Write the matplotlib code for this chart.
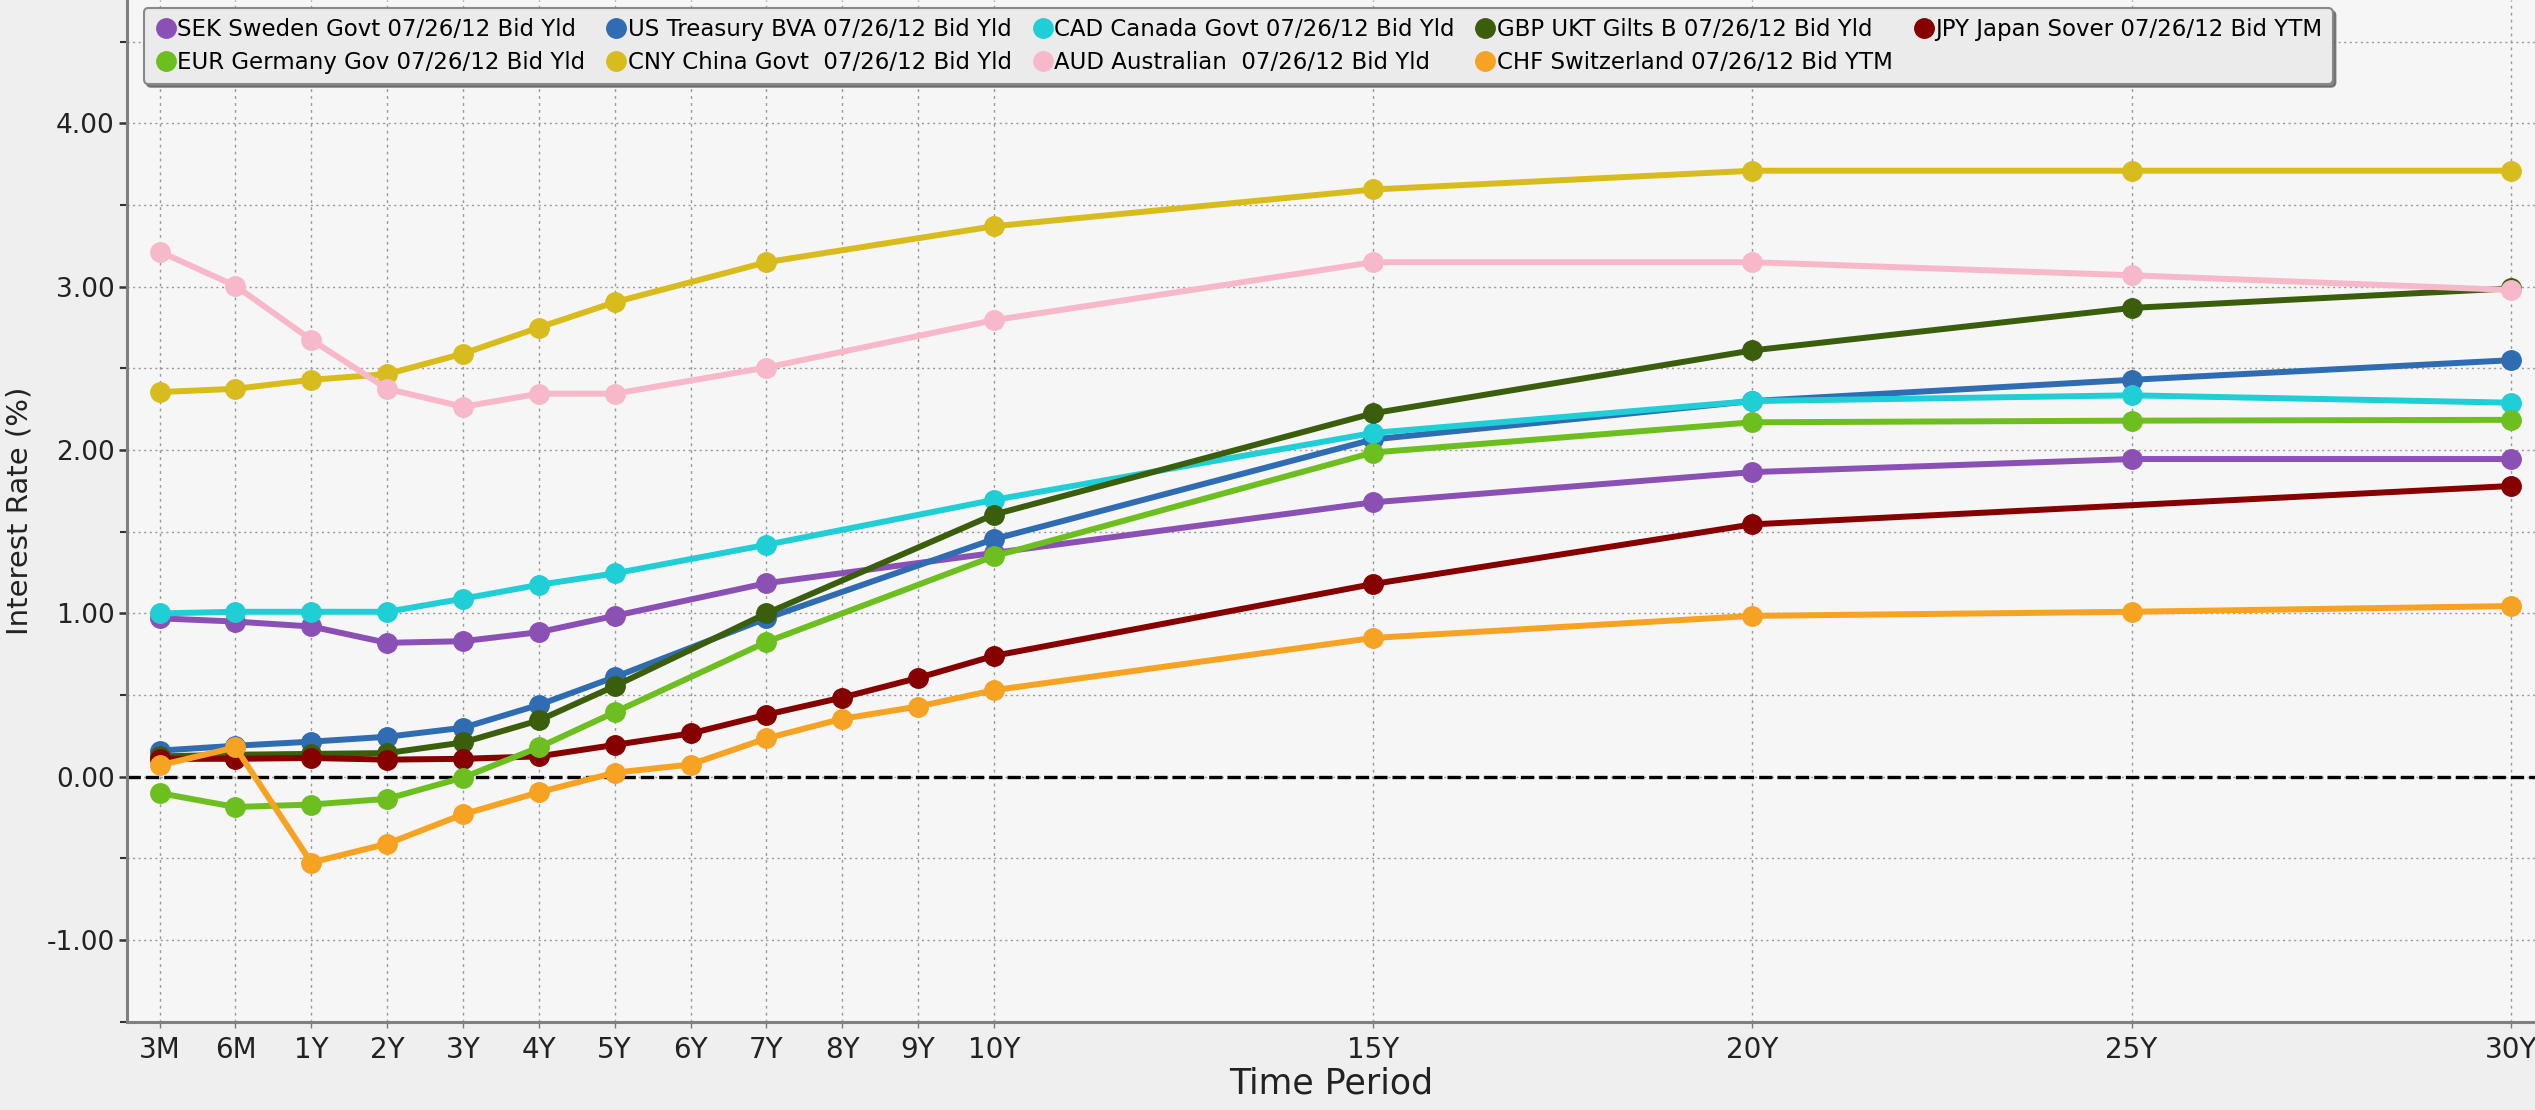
import numpy as np
import matplotlib
matplotlib.use("Agg")
import matplotlib.pyplot as plt
from matplotlib.lines import Line2D
from matplotlib.ticker import MultipleLocator, FixedLocator, FixedFormatter

# tenors (in years) and their labels
tenor_years = [0.25, 0.5, 1, 2, 3, 4, 5, 6, 7, 8, 9, 10, 15, 20, 25, 30]
tenor_labels = ["3M", "6M", "1Y", "2Y", "3Y", "4Y", "5Y", "6Y", "7Y", "8Y",
                "9Y", "10Y", "15Y", "20Y", "25Y", "30Y"]

# yields (%), None where the curve has no point
sek = [0.97, 0.95, 0.92, 0.82, 0.83, 0.885, 0.985, None, 1.185, None, None, 1.37, 1.68, 1.865, 1.945, 1.945]
usd = [0.16, 0.19, 0.215, 0.245, 0.30, 0.44, 0.61, None, 0.97, None, None, 1.455, 2.065, 2.30, 2.43, 2.55]
cad = [1.00, 1.01, 1.01, 1.01, 1.09, 1.175, 1.245, None, 1.42, None, None, 1.695, 2.105, 2.30, 2.335, 2.29]
gbp = [0.125, 0.135, 0.14, 0.145, 0.21, 0.345, 0.555, None, 1.00, None, None, 1.605, 2.225, 2.61, 2.87, 2.99]
jpy = [0.11, 0.11, 0.115, 0.105, 0.11, 0.125, 0.195, 0.265, 0.38, 0.485, 0.605, 0.74, 1.18, 1.545, None, 1.78]
eur = [-0.10, -0.185, -0.17, -0.135, -0.005, 0.18, 0.395, None, 0.825, None, None, 1.35, 1.985, 2.17, 2.18, 2.185]
cny = [2.355, 2.375, 2.43, 2.465, 2.59, 2.75, 2.905, None, 3.15, None, None, 3.37, 3.595, 3.71, 3.71, 3.71]
aud = [3.215, 3.005, 2.675, 2.375, 2.265, 2.345, 2.345, None, 2.505, None, None, 2.795, 3.15, 3.15, 3.07, 2.98]
chf = [0.07, 0.18, -0.525, -0.41, -0.23, -0.095, 0.025, 0.075, 0.235, 0.355, 0.43, 0.53, 0.85, 0.985, 1.01, 1.045]

series = [
    ("SEK Sweden Govt 07/26/12 Bid Yld", sek, "#8b50b4"),
    ("US Treasury BVA 07/26/12 Bid Yld", usd, "#2f6cb2"),
    ("CAD Canada Govt 07/26/12 Bid Yld", cad, "#20cfd6"),
    ("GBP UKT Gilts B 07/26/12 Bid Yld", gbp, "#3b5e0c"),
    ("JPY Japan Sover 07/26/12 Bid YTM", jpy, "#870000"),
    ("EUR Germany Gov 07/26/12 Bid Yld", eur, "#6dbf1f"),
    ("CNY China Govt  07/26/12 Bid Yld", cny, "#d8bc1e"),
    ("AUD Australian  07/26/12 Bid Yld", aud, "#f7b9c9"),
    ("CHF Switzerland 07/26/12 Bid YTM", chf, "#f6a222"),
]


# Bloomberg-style tenor axis: 3M, 6M, 1Y evenly spaced, then linear in years
def fwd(t):
    t = np.asarray(t, dtype=float)
    return np.where(t < 0.5, (t - 0.25) * 4,
                    np.where(t < 1, 1 + (t - 0.5) * 2, t + 1))


def inv(x):
    x = np.asarray(x, dtype=float)
    return np.where(x < 1, 0.25 + x / 4,
                    np.where(x < 2, 0.5 + (x - 1) / 2, x - 1))


fig = plt.figure(figsize=(25.35, 11.10), dpi=100, facecolor="#efefef")
ax = fig.add_axes([0.0501, 0.079, 0.9499, 0.921])
ax.set_facecolor("#f6f6f6")
ax.set_xscale("function", functions=(fwd, inv))

ax.axhline(0, color="black", lw=2.4, ls=(0, (4, 1.5)), zorder=2)

handles = []
for name, vals, color in series:
    pts = [(t, v) for t, v in zip(tenor_years, vals) if v is not None]
    xs, ys = zip(*pts)
    ax.plot(xs, ys, color=color, lw=4.3, marker="o", ms=14,
            solid_joinstyle="round", zorder=3)
    handles.append(Line2D([], [], color=color, marker="o", ls="", ms=14))

ax.set_xlim(0.1425, 30.32)
ax.set_ylim(-1.503, 4.755)

ax.xaxis.set_major_locator(FixedLocator(tenor_years))
ax.xaxis.set_major_formatter(FixedFormatter(tenor_labels))
ax.xaxis.set_minor_locator(FixedLocator([]))
ax.yaxis.set_major_locator(MultipleLocator(1.0))
ax.yaxis.set_minor_locator(MultipleLocator(0.5))
ax.yaxis.set_major_formatter(matplotlib.ticker.FormatStrFormatter("%.2f"))

ax.grid(True, which="major", axis="x", color="#999999", ls=(0, (2, 3)), lw=1.0)
ax.grid(True, which="both", axis="y", color="#999999", ls=(0, (1.5, 2.5)), lw=1.0)
ax.set_axisbelow(True)

for s in ["top", "right"]:
    ax.spines[s].set_visible(False)
for s in ["left", "bottom"]:
    ax.spines[s].set_color("#808080")
    ax.spines[s].set_linewidth(2.2)

ax.tick_params(axis="y", which="major", length=6, width=1.8, colors="#333333",
               labelcolor="#222222", labelsize=19, pad=3)
ax.tick_params(axis="y", which="minor", length=5, width=1.5, colors="#333333")
ax.tick_params(axis="x", length=4, width=1, colors="#777777",
               labelcolor="#222222", labelsize=20, pad=6)

ax.set_xlabel("Time Period", fontsize=25, color="#222222", labelpad=2)
ax.set_ylabel("Interest Rate (%)", fontsize=21, color="#222222")
ax.yaxis.set_label_coords(-0.039, 0.5)

order = [0, 5, 1, 6, 2, 7, 3, 8, 4]
leg = ax.legend([handles[i] for i in order], [series[i][0] for i in order],
                ncol=5, loc="upper left", bbox_to_anchor=(0.007, 0.992),
                prop={"size": 16.5}, frameon=True,
                facecolor="#ebebeb", edgecolor="#888888", framealpha=1,
                shadow={"color": "#555555", "alpha": 0.7},
                handletextpad=0.0, columnspacing=0.85, borderpad=0.45,
                labelspacing=0.4, handlelength=1.0, borderaxespad=0)
leg.get_frame().set_linewidth(1.5)
leg.set_zorder(5)

fig.savefig("out.png", dpi=100, facecolor=fig.get_facecolor())
